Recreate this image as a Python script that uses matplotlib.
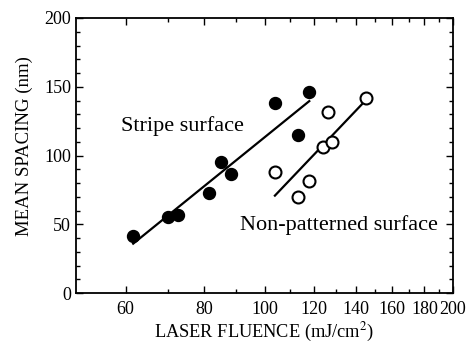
import numpy as np
import matplotlib
matplotlib.use("Agg")
import matplotlib.pyplot as plt
from matplotlib.ticker import FixedLocator, NullFormatter, FixedFormatter

# Data
stripe_x = [61.7, 70.0, 72.8, 81.5, 85.2, 88.4, 103.9, 113.2, 117.9]
stripe_y = [41.7, 55.5, 56.7, 72.5, 95.5, 86.5, 138.0, 114.9, 146.4]
plain_x = [103.9, 113.2, 117.9, 123.8, 128.0, 126.1, 145.2]
plain_y = [87.8, 69.6, 81.5, 106.4, 110.0, 131.9, 142.0]

x_major = [60, 80, 100, 120, 140, 160, 180, 200]
x_major_labels = ["60", "80", "100", "120", "140", "160", "180", "200"]
x_minor = [70, 90, 110, 130, 150, 170, 190]
y_major = [0, 50, 100, 150, 200]
y_minor = [10, 20, 30, 40, 60, 70, 80, 90, 110, 120, 130, 140, 160, 170, 180, 190]

plt.rcParams['font.family'] = ['Liberation Serif', 'DejaVu Serif']
plt.rcParams['mathtext.fontset'] = 'stix'

fig = plt.figure(figsize=(4.68, 3.45), dpi=100)
ax = fig.add_axes([76/468, 1 - 293/345, (453-76)/468, (293-18)/345])
ax.set_xscale('log')
ax.set_xlim(50, 200)
ax.set_ylim(0, 200)


def fit_line(xs, ys):
    lx = np.log(np.array(xs))
    k, b = np.polyfit(lx, np.array(ys), 1)
    xx = np.array([min(xs), max(xs)])
    return xx, k * np.log(xx) + b


fx, fy = fit_line(stripe_x, stripe_y)
ax.plot(fx, fy, color='black', lw=1.6, zorder=2)
px, py = fit_line(plain_x, plain_y)
ax.plot(px, py, color='black', lw=1.6, zorder=2)

ax.plot(stripe_x, stripe_y, 'o', ms=8.6, color='black', zorder=3)
ax.plot(plain_x, plain_y, 'o', ms=8.6, mfc='white', mec='black', mew=1.5, zorder=3)

ax.text(59.1, 118, "Stripe surface", fontsize=16, ha='left', va='baseline')
ax.text(91.4, 45.8, "Non-patterned surface", fontsize=16, ha='left', va='baseline')

ax.xaxis.set_major_locator(FixedLocator(x_major))
ax.xaxis.set_major_formatter(FixedFormatter(x_major_labels))
ax.xaxis.set_minor_locator(FixedLocator(x_minor))
ax.xaxis.set_minor_formatter(NullFormatter())
ax.yaxis.set_major_locator(FixedLocator(y_major))
ax.yaxis.set_minor_locator(FixedLocator(y_minor))

ax.tick_params(which='both', direction='in', top=True, right=True, width=1.0, labelsize=13)
ax.tick_params(which='major', length=5)
ax.tick_params(which='minor', length=3)
ax.tick_params(axis='x', which='major', pad=6)
for s in ax.spines.values():
    s.set_linewidth(1.3)

ax.set_xlabel("LASER FLUENCE (mJ/cm$^2$)", fontsize=13.2, labelpad=2)
ax.set_ylabel("MEAN SPACING (nm)", fontsize=13.5)
ax.yaxis.set_label_coords(-0.114, 0.533)

fig.savefig("out.png", dpi=100)
